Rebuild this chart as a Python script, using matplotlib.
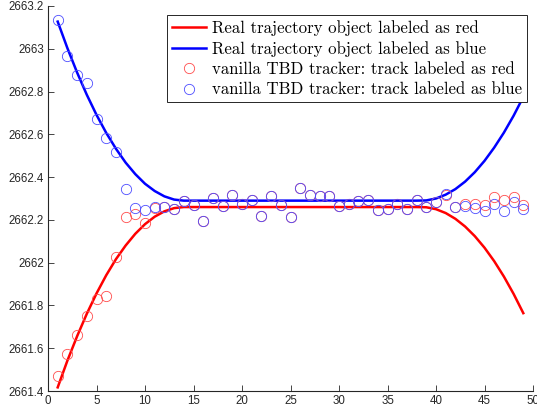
import matplotlib
matplotlib.use("Agg")
import matplotlib.pyplot as plt
from matplotlib.ticker import FuncFormatter, MultipleLocator
import numpy as np

# time steps
k = np.arange(1, 50)

# real trajectories (at each step)
red_true = [2661.417, 2661.542, 2661.656, 2661.761, 2661.856, 2661.941, 2662.016,
            2662.080, 2662.135, 2662.180, 2662.215, 2662.240, 2662.255] + [2662.260] * 25 + \
           [2662.259, 2662.250, 2662.232, 2662.205, 2662.169, 2662.124, 2662.070,
            2662.007, 2661.935, 2661.854, 2661.764]
blue_true = [2663.127, 2663.003, 2662.889, 2662.785, 2662.691, 2662.607, 2662.533,
             2662.468, 2662.414, 2662.369, 2662.335, 2662.310, 2662.295] + [2662.290] * 25 + \
            [2662.291, 2662.300, 2662.318, 2662.344, 2662.379, 2662.423, 2662.476,
             2662.538, 2662.608, 2662.687, 2662.775]

# tracker estimates
red_est = [2661.470, 2661.575, 2661.663, 2661.752, 2661.830, 2661.844, 2662.028,
           2662.212, 2662.228, 2662.187, 2662.254, 2662.262, 2662.250, 2662.288,
           2662.271, 2662.196, 2662.304, 2662.265, 2662.318, 2662.276, 2662.294,
           2662.220, 2662.312, 2662.270, 2662.212, 2662.348, 2662.317, 2662.312,
           2662.313, 2662.265, 2662.273, 2662.288, 2662.292, 2662.246, 2662.252,
           2662.274, 2662.253, 2662.293, 2662.262, 2662.282, 2662.318, 2662.262,
           2662.276, 2662.276, 2662.271, 2662.307, 2662.293, 2662.308, 2662.271]
blue_est = [2663.135, 2662.968, 2662.877, 2662.841, 2662.670, 2662.581, 2662.516,
            2662.346, 2662.254, 2662.246, 2662.259, 2662.262, 2662.250, 2662.288,
            2662.271, 2662.196, 2662.304, 2662.265, 2662.318, 2662.276, 2662.294,
            2662.220, 2662.312, 2662.270, 2662.212, 2662.348, 2662.317, 2662.312,
            2662.313, 2662.265, 2662.273, 2662.288, 2662.292, 2662.246, 2662.252,
            2662.274, 2662.253, 2662.293, 2662.262, 2662.282, 2662.322, 2662.262,
            2662.266, 2662.257, 2662.242, 2662.273, 2662.242, 2662.284, 2662.250]

fig = plt.figure(figsize=(5.37, 4.13), dpi=100)
ax = fig.add_axes([48 / 537, 1 - 391 / 413, 485 / 537, 385 / 413])

ax.plot(k, red_true, color="red", lw=1.8, label="Real trajectory object labeled as red")
ax.plot(k, blue_true, color="blue", lw=1.8, label="Real trajectory object labeled as blue")
ax.plot(k, red_est, "o", mfc="none", mec=(1, 0.3, 0.3), ms=7.4, mew=0.6,
        label="vanilla TBD tracker: track labeled as red")
ax.plot(k, blue_est, "o", mfc="none", mec=(0.3, 0.3, 1), ms=7.4, mew=0.6,
        label="vanilla TBD tracker: track labeled as blue")

ax.set_xlim(0, 50); ax.set_ylim(2661.4, 2663.2)
ax.xaxis.set_major_locator(MultipleLocator(5))
ax.yaxis.set_major_locator(MultipleLocator(0.2))
ax.yaxis.set_major_formatter(FuncFormatter(lambda v, p: f"{v:.1f}".rstrip("0").rstrip(".")))
for s in ("top", "right"):
    ax.spines[s].set_visible(False)
for s in ("left", "bottom"):
    ax.spines[s].set_color("#262626"); ax.spines[s].set_linewidth(0.8)
ax.tick_params(direction="in", length=4, width=0.6, colors="#262626", labelsize=8.3, pad=3)
for lab in ax.get_xticklabels() + ax.get_yticklabels():
    lab.set_fontfamily("Liberation Sans")

leg = ax.legend(loc="upper left", bbox_to_anchor=(167 / 537, 1 - 15 / 413),
                bbox_transform=fig.transFigure, borderaxespad=0, frameon=True,
                fancybox=False, framealpha=1, edgecolor="#262626", numpoints=1,
                handlelength=2.0, handletextpad=0.35, labelspacing=0.3,
                borderpad=0.3, prop={"family": "cmr10", "size": 12.1})
leg.get_frame().set_linewidth(0.7)

fig.savefig("out.png", dpi=100)
